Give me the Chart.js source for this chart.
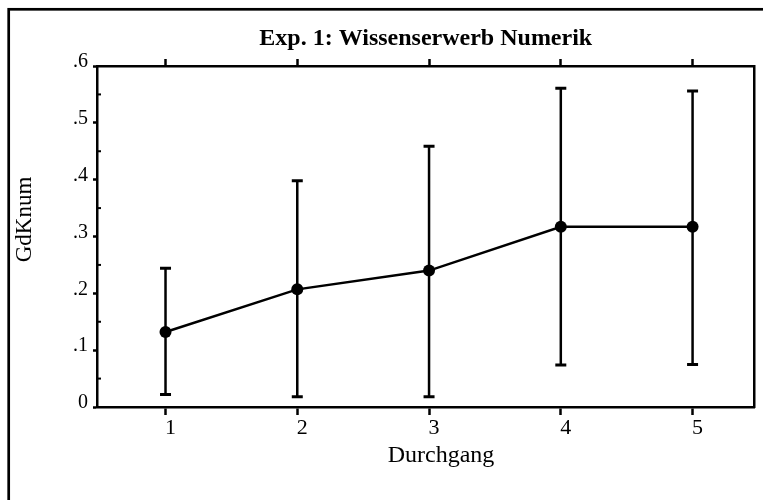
<!DOCTYPE html>
<html>
<head>
<meta charset="utf-8">
<script src="https://cdn.jsdelivr.net/npm/chart.js@4/dist/chart.umd.min.js"></script>
<style>
    body { margin: 0; background: #fff; }
    #box { width: 763px; height: 500px; }
</style>
</head>
<body>
<div id="box"><canvas id="gdk"></canvas></div>
<script>
const durchgang = [1, 2, 3, 4, 5]
const gdkMean = [0.132, 0.207, 0.240, 0.317, 0.317]
const gdkLow = [0.022, 0.018, 0.018, 0.074, 0.075]
const gdkHigh = [0.244, 0.398, 0.459, 0.561, 0.556]
const yTicks = [0, 0.1, 0.2, 0.3, 0.4, 0.5, 0.6]
const yMinorTicks = [0.05, 0.15, 0.25, 0.35, 0.45, 0.55]
const chartTitle = 'Exp. 1: Wissenserwerb Numerik'
const xTitle = 'Durchgang'
const yTitle = 'GdKnum'

const serif = "'Liberation Serif', 'Times New Roman', serif"

meanPoints = []
for(let i=0; i<durchgang.length; i++){
    meanPoints.push({x: durchgang[i], y: gdkMean[i]})
}

// error bars as one broken line, caps come from the 'line' point style
errPoints = []
for(let i=0; i<durchgang.length; i++){
    errPoints.push({x: durchgang[i], y: gdkLow[i]})
    errPoints.push({x: durchgang[i], y: gdkHigh[i]})
    errPoints.push({x: durchgang[i], y: null})
}

const textAndFrame = {
    id: 'textAndFrame',
    afterDraw(chart){
        const ctx = chart.ctx
        const area = chart.chartArea
        const yScale = chart.scales.y
        ctx.save()
        ctx.strokeStyle = '#000'
        ctx.lineWidth = 2.7
        ctx.strokeRect(8.7, 9.3, 900, 700)

        // small inward minor ticks on the left axis
        ctx.lineWidth = 2
        for(let i=0; i<yMinorTicks.length; i++){
            const py = yScale.getPixelForValue(yMinorTicks[i])
            ctx.beginPath()
            ctx.moveTo(area.left, py)
            ctx.lineTo(area.left + 4, py)
            ctx.stroke()
        }

        ctx.fillStyle = '#000'
        ctx.textAlign = 'center'
        ctx.textBaseline = 'alphabetic'
        ctx.font = 'bold 24px ' + serif
        ctx.fillText(chartTitle, (area.left + area.right) / 2, 45)

        ctx.font = '24px ' + serif
        ctx.fillText(xTitle, 441, 462)

        ctx.font = '23px ' + serif
        ctx.translate(31, 219.5)
        ctx.rotate(-Math.PI / 2)
        ctx.fillText(yTitle, 0, 0)
        ctx.restore()
    }
}

function fixTicks(values){
    return function(axis){
        axis.ticks = values.map(v => ({value: v}))
    }
}

const ctx = document.getElementById('gdk').getContext('2d')
const gdkChart = new Chart(ctx, {
    type: 'line',
    data: {
        datasets: [
            {
                label: 'Fehlerbalken',
                data: errPoints,
                borderColor: '#000',
                borderWidth: 2.5,
                spanGaps: false,
                pointStyle: 'line',
                pointRadius: 5.5,
                pointBorderWidth: 3,
                pointBorderColor: '#000',
                pointHoverRadius: 5.5
            },
            {
                label: 'GdKnum',
                data: meanPoints,
                borderColor: '#000',
                backgroundColor: '#000',
                borderWidth: 2.5,
                pointRadius: 6,
                pointBackgroundColor: '#000',
                pointBorderWidth: 0,
                tension: 0
            }
        ]
    },
    options: {
        responsive: true,
        maintainAspectRatio: false,
        animation: false,
        layout: {
            padding: {left: 0, top: 57, right: 0, bottom: 0}
        },
        plugins: {
            legend: {display: false},
            title: {display: false},
            tooltip: {enabled: false}
        },
        scales: {
            x: {
                type: 'linear',
                position: 'bottom',
                min: 0.48,
                max: 5.47,
                afterBuildTicks: fixTicks(durchgang),
                afterFit: s => { s.height = 93 },
                grid: {drawOnChartArea: false, tickLength: 8, tickWidth: 2.5, tickColor: '#000'},
                border: {display: true, color: '#000', width: 2.5},
                ticks: {
                    color: '#000',
                    font: {family: serif, size: 22},
                    padding: 0,
                    labelOffset: 5,
                    maxRotation: 0,
                    callback: v => String(v)
                }
            },
            xTop: {
                type: 'linear',
                position: 'top',
                min: 0.48,
                max: 5.47,
                afterBuildTicks: fixTicks(durchgang),
                afterFit: s => { s.height = 9 },
                grid: {drawOnChartArea: false, tickLength: 7, tickWidth: 2.5, tickColor: '#000'},
                border: {display: true, color: '#000', width: 2.5},
                ticks: {display: false}
            },
            y: {
                type: 'linear',
                position: 'left',
                min: 0,
                max: 0.6,
                afterBuildTicks: fixTicks(yTicks),
                afterFit: s => { s.width = 97 },
                grid: {drawOnChartArea: false, tickLength: 4, tickWidth: 2.5, tickColor: '#000'},
                border: {display: true, color: '#000', width: 2.5},
                ticks: {
                    color: '#000',
                    font: {family: serif, size: 20},
                    padding: 5,
                    labelOffset: -4,
                    callback: v => v == 0 ? '0' : '.' + Math.round(v * 10)
                }
            },
            yRight: {
                type: 'linear',
                position: 'right',
                min: 0,
                max: 0.6,
                afterFit: s => { s.width = 2 },
                grid: {drawOnChartArea: false, drawTicks: false},
                border: {display: true, color: '#000', width: 2.5},
                ticks: {display: false}
            }
        }
    },
    plugins: [textAndFrame]
})
</script>
</body>
</html>
